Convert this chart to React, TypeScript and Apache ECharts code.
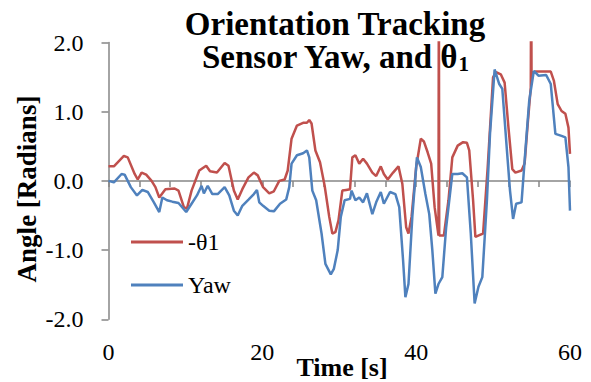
import React, { useEffect, useRef } from "react";
import * as echarts from "echarts";

const thetaTimes = [0,0.7,2.0,2.5,3.4,3.8,4.3,4.9,5.6,6.1,6.6,7.4,8.6,9.1,9.8,10.2,10.8,11.8,12.7,13.2,14.1,15.1,15.6,16.3,16.8,17.4,18.2,18.9,19.4,20.1,20.9,21.5,22.2,22.9,23.3,23.8,24.5,25.3,25.8,26.1,26.4,26.9,27.5,28.1,28.7,29.1,29.5,29.9,30.4,30.9,31.4,31.7,32.1,32.6,33.1,33.6,34.3,34.8,35.4,35.8,36.3,37.0,37.7,38.2,38.7,39.0,39.4,40.0,40.6,41.0,41.5,41.95,42.4,42.9,42.95,43.0,43.6,44.2,44.7,45.4,46.1,46.6,46.9,47.4,47.7,48.3,48.7,49.3,50.0,50.4,51.0,51.5,52.0,52.5,52.9,53.7,54.1,54.5,54.9,54.95,55.0,55.5,57.5,57.9,58.4,58.9,59.4,59.8,60.0];
const thetaValues = [0.21,0.21,0.36,0.34,0.10,0.02,0.12,0.09,0.00,-0.09,-0.24,-0.12,-0.11,-0.14,-0.38,-0.40,-0.14,0.15,0.22,0.14,0.12,0.26,0.22,-0.14,-0.27,-0.12,0.05,0.12,0.08,-0.09,-0.18,-0.15,0.00,0.02,0.15,0.61,0.80,0.84,0.84,0.88,0.83,0.44,0.27,-0.07,-0.52,-0.76,-0.74,-0.57,-0.14,-0.13,-0.12,0.34,0.37,0.25,0.32,0.25,0.12,0.07,0.21,0.10,0.02,0.12,0.21,-0.04,-0.67,-0.76,-0.52,0.20,0.61,0.57,0.41,0.25,-0.38,-0.79,3.1,-0.79,-0.79,-0.28,0.34,0.51,0.56,0.55,0.44,-0.28,-0.81,-0.78,-0.76,0.20,1.50,1.57,1.54,1.42,0.77,0.17,0.12,0.15,0.25,0.82,1.35,3.1,1.55,1.58,1.58,1.45,1.11,1.01,0.97,0.77,0.39];

const yawTimes = [0,0.7,1.7,2.1,2.9,3.7,4.4,5.1,5.9,6.6,7.0,7.6,8.3,9.1,10.1,10.8,11.5,12.1,12.4,12.9,13.5,14.2,15.1,15.7,16.3,16.8,17.4,18.2,18.9,19.3,19.6,20.1,20.9,21.5,22.3,23.1,23.5,23.8,24.5,25.3,25.8,26.1,26.5,27.0,27.7,28.2,28.9,29.3,29.8,30.2,30.7,31.4,31.6,32.1,32.6,33.1,33.6,34.3,34.8,35.4,35.8,36.6,37.3,37.8,38.3,38.6,39.0,39.5,40.1,40.6,41.2,41.7,42.1,42.5,42.9,43.4,43.9,44.7,45.4,46.0,46.6,47.1,47.6,48.1,48.6,49.2,49.6,50.2,50.8,51.2,51.8,52.2,52.6,53.0,53.7,54.2,54.7,55.3,55.9,56.9,57.5,58.1,58.9,59.4,59.8,60.0];
const yawValues = [0.00,-0.02,0.10,0.09,-0.09,-0.21,-0.13,-0.16,-0.31,-0.45,-0.24,-0.28,-0.30,-0.32,-0.45,-0.33,-0.21,-0.07,-0.18,-0.07,-0.19,-0.19,-0.09,-0.21,-0.43,-0.50,-0.36,-0.27,-0.19,-0.13,-0.31,-0.36,-0.43,-0.44,-0.33,-0.27,-0.09,0.25,0.37,0.40,0.44,0.34,-0.14,-0.28,-0.76,-1.20,-1.35,-1.27,-1.00,-0.52,-0.28,-0.26,-0.14,-0.28,-0.24,-0.31,-0.18,-0.48,-0.31,-0.16,-0.33,-0.16,-0.19,-0.38,-1.15,-1.68,-1.49,-0.52,0.34,0.20,-0.19,-0.48,-1.00,-1.63,-1.49,-1.39,-0.67,0.10,0.10,0.11,0.05,-0.76,-1.77,-1.53,-1.39,-0.28,0.68,1.61,1.40,1.33,0.44,-0.14,-0.55,-0.33,-0.31,0.44,1.16,1.59,1.52,1.53,1.40,0.68,0.65,0.63,0.20,-0.43];

const seriesNames = ["-θ1", "Yaw"];
const xLabelValues = [0, 20, 40, 60];

const SERIF = "'Liberation Serif', 'Times New Roman', serif";

export default function App() {
  const ref = useRef<HTMLDivElement>(null);
  useEffect(() => {
    if (!ref.current) return;
    const chart = echarts.init(ref.current, null, { renderer: "svg" });
    const thetaData = thetaTimes.map((t, i) => [t, thetaValues[i]]);
    const yawData = yawTimes.map((t, i) => [t, yawValues[i]]);
    chart.setOption({
      animation: false,
      backgroundColor: "#ffffff",
      title: {
        text: "Orientation Tracking\nSensor Yaw, and θ{sub|1}",
        left: 335,
        top: 7,
        padding: 0,
        textAlign: "center",
        textStyle: {
          fontFamily: SERIF,
          fontWeight: "bold",
          fontSize: 33,
          lineHeight: 33.5,
          color: "#000",
          rich: {
            sub: {
              fontFamily: SERIF,
              fontWeight: "bold",
              fontSize: 21,
              lineHeight: 12,
              verticalAlign: "bottom",
              color: "#000",
            },
          },
        },
      },
      legend: {
        data: seriesNames.map((n) => ({ name: n, icon: "rect" })),
        orient: "vertical",
        left: 131,
        top: 229,
        padding: 0,
        itemWidth: 52,
        itemHeight: 3,
        itemGap: 17,
        textStyle: { fontFamily: SERIF, fontSize: 24, color: "#000", lineHeight: 26 },
      },
      grid: { left: 108.5, right: 21, top: 42.5, bottom: 62.7, containLabel: false },
      xAxis: {
        type: "value",
        min: 0,
        max: 60,
        interval: 4,
        axisLine: { lineStyle: { color: "#868686", width: 1.5 } },
        axisTick: { show: true, length: 6, lineStyle: { color: "#868686", width: 1.5 } },
        splitLine: { show: false },
        axisLabel: {
          margin: 21,
          fontFamily: SERIF,
          fontSize: 24,
          color: "#000",
          formatter: (v: number) => (xLabelValues.includes(v) ? String(v) : ""),
        },
      },
      yAxis: {
        type: "value",
        min: -2,
        max: 2,
        interval: 1,
        axisLine: { show: true, lineStyle: { color: "#868686", width: 1.5 } },
        axisTick: { show: true, length: 7, lineStyle: { color: "#868686", width: 1.5 } },
        splitLine: { show: false },
        axisLabel: {
          margin: 25,
          fontFamily: SERIF,
          fontSize: 24,
          color: "#000",
          formatter: (v: number) => v.toFixed(1),
        },
      },
      graphic: [
        {
          type: "text",
          x: 27,
          y: 189,
          rotation: Math.PI / 2,
          style: {
            text: "Angle [Radians]",
            fontFamily: SERIF,
            fontWeight: "bold",
            fontSize: 27,
            fill: "#000",
            textAlign: "center",
            textVerticalAlign: "middle",
          },
        },
        {
          type: "text",
          x: 342,
          y: 367,
          style: {
            text: "Time [s]",
            fontFamily: SERIF,
            fontWeight: "bold",
            fontSize: 26,
            fill: "#000",
            textAlign: "center",
            textVerticalAlign: "middle",
          },
        },
      ],
      series: [
        {
          name: seriesNames[0],
          type: "line",
          data: thetaData,
          symbol: "none",
          clip: true,
          lineStyle: { color: "#C0504D", width: 2.5 },
          itemStyle: { color: "#C0504D" },
        },
        {
          name: seriesNames[1],
          type: "line",
          data: yawData,
          symbol: "none",
          clip: true,
          lineStyle: { color: "#4F81BD", width: 2.5 },
          itemStyle: { color: "#4F81BD" },
        },
      ],
    });
    return () => chart.dispose();
  }, []);
  return <div ref={ref} style={{ width: 591, height: 382, position: "absolute", left: 0, top: 0 }} />;
}
